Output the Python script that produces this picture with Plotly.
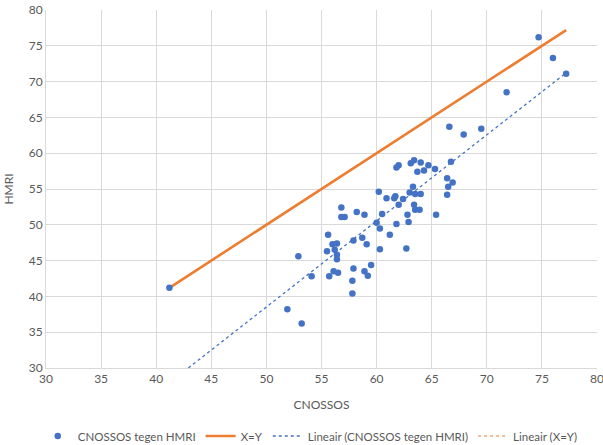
import numpy as np
import plotly.graph_objects as go

# CNOSSOS (x) vs HMRI (y) values
cnossos = [41.2, 51.9, 53.2, 52.9, 54.1, 55.5, 55.6, 56.0, 56.4, 56.2,
           56.4, 56.4, 56.1, 56.5, 55.7, 56.8, 56.8, 57.1, 58.2, 58.9,
           57.9, 58.7, 59.1, 57.8, 57.9, 58.9, 59.2, 59.5, 57.8, 60.2,
           60.5, 60.0, 60.3, 61.2, 61.8, 60.3, 60.9, 61.6, 61.7, 62.4,
           62.0, 63.0, 63.3, 63.5, 64.0, 63.4, 63.5, 63.9, 62.8, 62.9,
           62.7, 65.4, 66.4, 66.5, 66.9, 66.4, 66.75, 61.8, 62.0, 63.1,
           63.4, 64.0, 63.7, 64.3, 64.7, 65.3, 66.6, 67.9, 69.5, 71.8,
           74.7, 76.0, 77.2]
hmri = [41.2, 38.2, 36.2, 45.6, 42.8, 46.3, 48.6, 47.3, 47.4, 46.5,
        45.8, 45.2, 43.5, 43.3, 42.8, 52.4, 51.1, 51.1, 51.8, 51.4,
        47.8, 48.2, 47.3, 42.2, 43.9, 43.5, 42.9, 44.4, 40.4, 54.6,
        51.5, 50.3, 49.5, 48.6, 50.1, 46.6, 53.7, 53.7, 54.0, 53.6,
        52.8, 54.5, 55.3, 54.3, 54.3, 52.8, 52.1, 52.1, 51.4, 50.4,
        46.7, 51.4, 54.2, 55.3, 55.9, 56.5, 58.8, 58.0, 58.3, 58.6,
        59.0, 58.7, 57.4, 57.6, 58.3, 57.8, 63.7, 62.6, 63.4, 68.5,
        76.2, 73.3, 71.1]

xy_line = [41.2, 77.2]
x_ticks = [30, 35, 40, 45, 50, 55, 60, 65, 70, 75, 80]
y_ticks = [30, 35, 40, 45, 50, 55, 60, 65, 70, 75, 80]

# linear trendline (least squares) of the data, over the data x-range
slope, intercept = np.polyfit(cnossos, hmri, 1)
tx = np.array([min(cnossos), max(cnossos)])
ty = slope * tx + intercept

BLUE = "#4472C4"
ORANGE = "#ED7D31"
TXT = "#595959"
FONT = "Lato, Liberation Sans, Arial"

fig = go.Figure()
fig.add_trace(go.Scatter(x=xy_line, y=xy_line, mode="lines", name="X=Y", legendrank=2,
                         line=dict(color=ORANGE, width=2.6)))
fig.add_trace(go.Scatter(x=xy_line, y=xy_line, mode="lines", name="Lineair (X=Y)", legendrank=4,
                         line=dict(color=ORANGE, width=1.0, dash="dot")))
fig.add_trace(go.Scatter(x=tx, y=ty, mode="lines", name="Lineair (CNOSSOS tegen HMRI)", legendrank=3,
                         line=dict(color=BLUE, width=1.3, dash="dot")))
fig.add_trace(go.Scatter(x=cnossos, y=hmri, mode="markers", name="CNOSSOS tegen HMRI", legendrank=1,
                         marker=dict(color=BLUE, size=6.5)))

fig.update_layout(
    width=603, height=445,
    margin=dict(l=46, r=6, t=10, b=77, autoexpand=False),
    paper_bgcolor="white", plot_bgcolor="white",
    font=dict(family=FONT, size=12, color=TXT),
    showlegend=True,
    legend=dict(orientation="h", x=-0.015, xanchor="left", y=-0.19, yanchor="middle",
                font=dict(size=11.5, color=TXT), traceorder="normal",
                itemwidth=30, tracegroupgap=0),
    xaxis=dict(range=[30, 80], tickvals=x_ticks, showgrid=True, gridcolor="#D9D9D9",
               zeroline=False, showline=True, linecolor="#D9D9D9", ticks="",
               ticklabeloverflow="allow", automargin=False,
               title=dict(text="CNOSSOS", standoff=15, font=dict(size=12, color=TXT)),
               fixedrange=True),
    yaxis=dict(range=[30, 80], tickvals=y_ticks, showgrid=True, gridcolor="#D9D9D9",
               zeroline=False, showline=True, linecolor="#D9D9D9", ticks="",
               ticklabeloverflow="allow", automargin=False,
               title=dict(text="HMRI", standoff=12, font=dict(size=12, color=TXT)),
               fixedrange=True),
)

fig.write_html("out.html", config={"displayModeBar": False},
               post_script="document.body.style.margin='0';document.body.style.overflow='hidden';")
